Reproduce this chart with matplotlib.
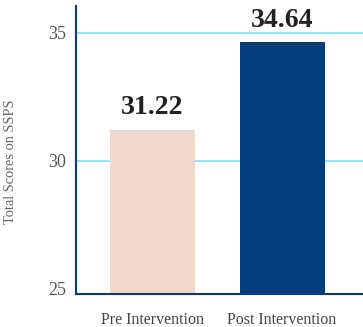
import matplotlib
matplotlib.use("Agg")
import matplotlib.pyplot as plt

categories = ["Pre Intervention", "Post Intervention"]
values = [31.22, 34.64]
value_labels = ["31.22", "34.64"]
yticks = [25, 30, 35]
colors = ["#efd9cf", "#033d7c"]

W, H = 363, 327
fig = plt.figure(figsize=(W/100, H/100), dpi=100)
ax = fig.add_axes([76/W, 1-294/H, 1-76/W, (294-6)/H])

x = list(range(len(categories)))
ax.bar(x, values, width=0.656, color=colors, zorder=2)
for xi, v, lab in zip(x, values, value_labels):
    ax.annotate(lab, (xi, v), xytext=(0, 11), textcoords="offset points",
                ha="center", va="baseline", fontsize=20, fontweight="bold",
                family="Liberation Serif", color="#222222", zorder=3)

ax.set_ylim(24.8, 36.05)
ax.set_xlim(-0.59, 1.625)
ax.set_yticks(yticks)
ax.set_yticklabels([str(t) for t in yticks], family="Liberation Serif", fontsize=13, color="#555555")
ax.set_xticks(x)
ax.set_xticklabels(categories, family="Liberation Serif", fontsize=11.5, color="#444444")
ax.tick_params(axis="both", length=0)
ax.tick_params(axis="y", pad=7)
ax.tick_params(axis="x", pad=13)
for yt in yticks[1:]:
    ax.axhline(yt, color="#8adcf2", linewidth=1.2, zorder=0)
for s in ["top", "right"]:
    ax.spines[s].set_visible(False)
for s in ["left", "bottom"]:
    ax.spines[s].set_color("#0a3a7a")
    ax.spines[s].set_linewidth(1.5)
ax.set_ylabel("Total Scores on SSPS", family="Liberation Serif", fontsize=10.4, color="#666666")
ax.yaxis.set_label_coords(-0.206, 0.458)

fig.savefig("out.png", dpi=100)
